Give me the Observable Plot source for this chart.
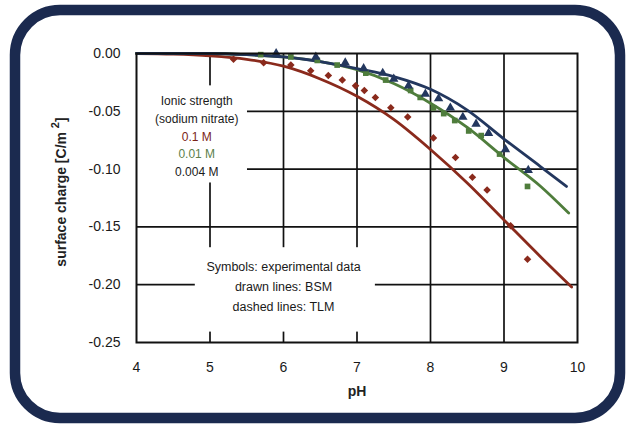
<!DOCTYPE html>
<html>
<head>
<meta charset="utf-8">
<script src="https://cdn.jsdelivr.net/npm/d3@7"></script>
<script src="https://cdn.jsdelivr.net/npm/@observablehq/plot@0.6"></script>
<style>
  html, body { margin: 0; padding: 0; background: #fff; }
  #chart svg { display: block; }
</style>
</head>
<body>
<div id="chart"></div>
<script>
// ---- Tick values ----
const xTicks = [4, 5, 6, 7, 8, 9, 10];
const yTicks = [0, -0.05, -0.10, -0.15, -0.20, -0.25];

// ---- Model curves (BSM, drawn lines) ----
const redLineX   = [4, 4.5, 5, 5.5, 6, 6.5, 7, 7.5, 8, 8.5, 9, 9.5, 9.92];
const redLineY   = [0, -0.0005, -0.002, -0.005, -0.011, -0.022, -0.037, -0.057, -0.083, -0.112, -0.144, -0.176, -0.202];
const greenLineX = [4, 5, 5.5, 6, 6.5, 7, 7.5, 8, 8.5, 9, 9.5, 9.88];
const greenLineY = [0, 0, -0.001, -0.003, -0.007, -0.014, -0.026, -0.043, -0.064, -0.090, -0.115, -0.138];
const blueLineX  = [4, 5, 5.5, 6, 6.5, 7, 7.5, 8, 8.5, 9, 9.5, 9.85];
const blueLineY  = [0, 0, -0.001, -0.003, -0.007, -0.013, -0.020, -0.031, -0.049, -0.074, -0.098, -0.115];

// ---- Experimental data (symbols) ----
const redPtsX = [5.32, 5.73, 6.1, 6.37, 6.61, 6.8, 6.98, 7.1, 7.25, 7.46, 7.69, 8.04, 8.34, 8.57, 8.77, 9.09, 9.32];
const redPtsY = [-0.005, -0.008, -0.010, -0.015, -0.019, -0.023, -0.028, -0.032, -0.038, -0.047, -0.055, -0.073, -0.090, -0.107, -0.118, -0.149, -0.178];
const greenPtsX = [5.69, 6.1, 6.46, 6.73, 7.12, 7.39, 7.73, 7.86, 8.04, 8.18, 8.33, 8.52, 8.69, 8.94, 9.32];
const greenPtsY = [-0.001, -0.003, -0.006, -0.010, -0.017, -0.023, -0.032, -0.038, -0.047, -0.052, -0.058, -0.067, -0.071, -0.087, -0.115];
const bluePtsX = [5.9, 6.44, 6.84, 7.09, 7.35, 7.5, 7.7, 7.93, 8.11, 8.27, 8.44, 8.62, 8.79, 9.02, 9.33];
const bluePtsY = [0, -0.003, -0.008, -0.013, -0.017, -0.022, -0.028, -0.035, -0.039, -0.047, -0.055, -0.061, -0.069, -0.083, -0.101];

// ---- Annotation texts ----
const legend1Lines = ["Ionic strength", "(sodium nitrate)", "0.1 M", "0.01 M", "0.004 M"];
const legend1Colors = ["#1a1a1a", "#1a1a1a", "#7a2418", "#5d7f4c", "#1a1a1a"];
const legend2Lines = [["Symbols: experimental data", ""], ["drawn lines: ", "BSM"], ["dashed lines: ", "TLM"]];

const RED = "#8a2a1c", GREEN = "#4f7d3c", BLUE = "#23375e";

const zip = (xs, ys, s) => xs.map((x, i) => ({x, y: ys[i], s}));
const lines = [
  ...zip(redLineX, redLineY, "0.1 M"),
  ...zip(greenLineX, greenLineY, "0.01 M"),
  ...zip(blueLineX, blueLineY, "0.004 M")
];
const colorOf = {"0.1 M": RED, "0.01 M": GREEN, "0.004 M": BLUE};

const legend1 = legend1Lines.map((t, i) => ({t, c: legend1Colors[i], x: 4.82, y: -0.041 - i * 0.0155}));
const legend2 = legend2Lines.map((t, i) => ({t: t[0] + t[1], x: 6.0, y: -0.185 - i * 0.017}));

const plot = Plot.plot({
  width: 626,
  height: 425,
  marginLeft: 136,
  marginRight: 49,
  marginTop: 53,
  marginBottom: 83,
  style: {fontFamily: "Arial, 'Liberation Sans', sans-serif", background: "white", color: "#1a1a1a"},
  x: {domain: [4, 10]},
  y: {domain: [-0.25, 0]},
  marks: [
    Plot.gridX(xTicks.slice(1, -1), {stroke: "#111", strokeOpacity: 1, strokeWidth: 1.7}),
    Plot.gridY(yTicks.slice(1, -1), {stroke: "#111", strokeOpacity: 1, strokeWidth: 1.7}),
    Plot.rect([{}], {x1: 4.01, x2: 5.51, y1: -0.028, y2: -0.112, fill: "white"}),
    Plot.rect([{}], {x1: 4.8, x2: 7.25, y1: -0.168, y2: -0.241, fill: "white"}),
    Plot.line(lines, {x: "x", y: "y", z: "s", stroke: d => colorOf[d.s], strokeWidth: 2.8, curve: "monotone-x"}),
    Plot.dot(zip(redPtsX, redPtsY), {x: "x", y: "y", symbol: "diamond2", r: 3.4, fill: RED, stroke: "none"}),
    Plot.dot(zip(greenPtsX, greenPtsY), {x: "x", y: "y", symbol: "square", r: 3.2, fill: GREEN, stroke: "none"}),
    Plot.dot(zip(bluePtsX, bluePtsY), {x: "x", y: "y", symbol: "triangle", r: 3.5, fill: BLUE, stroke: "none"}),
    Plot.frame({stroke: "#111", strokeWidth: 2}),
    Plot.axisX(xTicks, {tickSize: 0, tickPadding: 20, fontSize: 14, label: null}),
    Plot.axisY(yTicks, {tickSize: 0, tickPadding: 16, fontSize: 14, label: null, tickFormat: d => d.toFixed(2)}),
    Plot.text(legend1, {x: "x", y: "y", text: "t", fill: "c", fontSize: 12, textAnchor: "middle"}),
    Plot.text(legend2, {x: "x", y: "y", text: "t", fill: "#1a1a1a", fontSize: 12.5, textAnchor: "middle"}),
    Plot.text(["pH"], {frameAnchor: "bottom", dy: 53, fontSize: 14, fontWeight: "bold", fill: "#222"})
  ]
});

document.getElementById("chart").appendChild(plot);

// Y axis title with superscript, and the rounded navy border of the figure
const svg = d3.select(plot);
const yt = svg.append("text")
  .attr("transform", "translate(62,192) rotate(-90)")
  .attr("text-anchor", "middle")
  .attr("dominant-baseline", "middle")
  .attr("font-size", 14)
  .attr("font-weight", "bold")
  .attr("fill", "#222")
  .attr("font-family", "Arial, 'Liberation Sans', sans-serif");
yt.append("tspan").text("surface charge [C/m ");
yt.append("tspan").attr("dy", -6).attr("font-size", 11).text("2");
yt.append("tspan").attr("dy", 6).text("]");

svg.append("rect")
  .attr("x", 15).attr("y", 10)
  .attr("width", 605).attr("height", 408)
  .attr("rx", 45).attr("ry", 45)
  .attr("fill", "none")
  .attr("stroke", "#1b2a4f")
  .attr("stroke-width", 10.5);
</script>
</body>
</html>
